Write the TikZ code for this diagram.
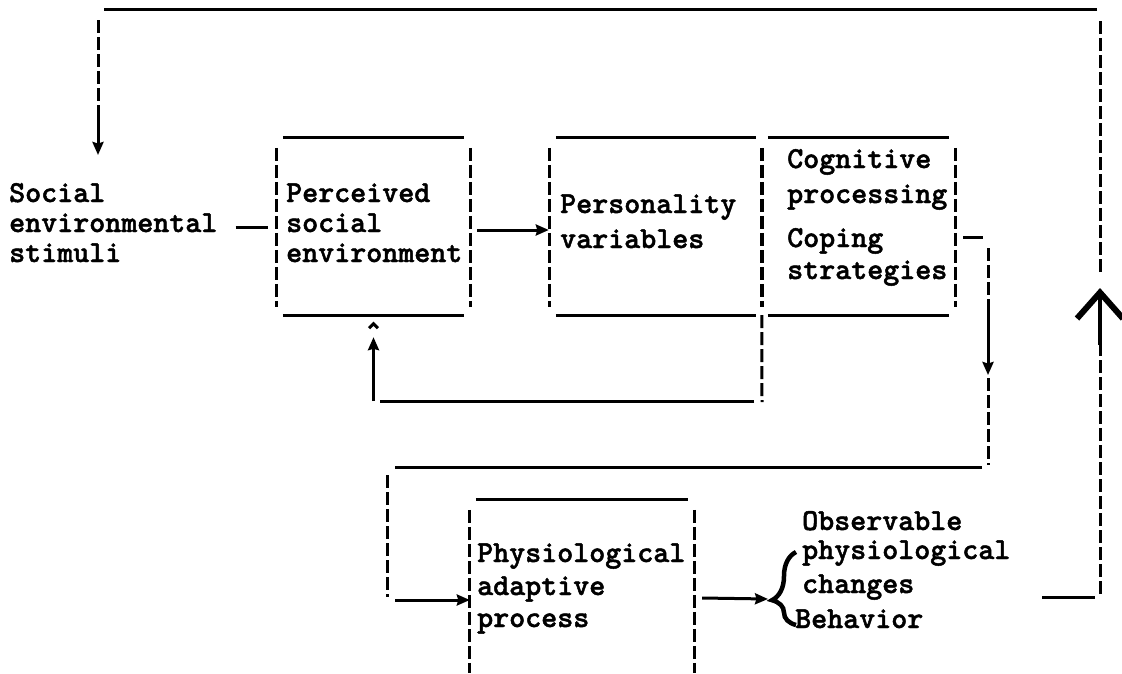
\documentclass[tikz,border=0pt]{standalone}
\usepackage{fontspec}
\newfontfamily\tyfam{lmmonolt10-bold.otf}[FakeBold=1.5]
\usetikzlibrary{arrows.meta,calc,decorations.pathreplacing}
\newcommand{\tyfont}{\fontsize{30.5}{33}\selectfont\tyfam}
\tikzset{
  rule/.style={line width=3pt},
  bar/.style={line width=3pt, dash pattern=on 13pt off 4pt},
  arr/.style={line width=3pt, -{Stealth[length=13pt,width=11pt,inset=1.5pt]}},
  bigarr/.style={line width=4.5pt, -{Straight Barb[length=26pt,width=46pt,line width=6pt]}},
  txt/.style={anchor=base west, inner sep=0pt, font=\tyfont},
  frame/.style={inner sep=0pt, minimum height=177pt},
  curly/.style={line width=4.5pt, decorate, decoration={brace, amplitude=24pt, aspect=0.34}},
}
% open typewriter box: top rule and dashed sides
\newcommand{\openbox}[1]{%
  \draw[rule] ($(#1.north west)+(6,0)$) -- ($(#1.north east)+(-6,0)$);
  \draw[bar] ($(#1.north west)+(0,10)$) -- ($(#1.south west)+(0,-8)$);
  \draw[bar] ($(#1.north east)+(0,10)$) -- ($(#1.south east)+(0,-8)$);
}
\begin{document}
\begin{tikzpicture}[x=1pt, y=-1pt]
  \fill[white] (0,0) rectangle (1122,673);
  \useasboundingbox (0,0) rectangle (1122,673);

  % boxes
  \node[frame, minimum width=193pt] (pse) at (373.5,226.5) {};
  \node[frame, minimum width=212pt] (pv) at (656,226.5) {};
  \node[frame, minimum width=193pt] (cog) at (858.5,226.5) {};
  \node[frame, minimum width=224pt, minimum height=181pt] (pap) at (582,590.5) {};
  \foreach \b in {pse,pv,cog,pap} {\openbox{\b}}
  \foreach \b in {pse,pv,cog}
    \draw[rule] ($(\b.south west)+(6,0)$) -- ($(\b.south east)+(-6,0)$);

  % texts
  \foreach \w/\y [count=\i] in {Social/202, environmental/232, stimuli/262}
    \node[txt] (soc\i) at (9,\y) {\w};
  \foreach \w/\y [count=\i] in {Perceived/202, social/232, environment/262}
    \node[txt] (pst\i) at (286,\y) {\w};
  \foreach \w/\y [count=\i] in {Personality/213, variables/248}
    \node[txt] (pvt\i) at (560,\y) {\w};
  \foreach \w/\y [count=\i] in {Cognitive/168, processing/203, Coping/247, strategies/279}
    \node[txt] (cgt\i) at (787,\y) {\w};
  \foreach \w/\y [count=\i] in {Physiological/562, adaptive/595, process/627}
    \node[txt] (pat\i) at (477,\y) {\w};
  \foreach \w/\y [count=\i] in {Observable/530, physiological/559, changes/593}
    \node[txt] (obs\i) at (802,\y) {\w};
  \node[txt] (beh) at (795,628) {Behavior};

  % upper row
  \draw[rule] ($(soc2.east)+(18,5)$) -- ($(pse.west |- soc2.east)+(-9,5)$);
  \draw[arr] ($(pse.east)+(7,3.5)$) -- ($(pv.west)+(-1,3.5)$);
  \draw[rule] ($(cog.east)+(8,10.5)$) -- ($(cog.east)+(28,10.5)$);

  % feedback under the boxes
  \coordinate (fb1) at (762,402);
  \coordinate (fb2) at (380,401);
  \coordinate (fb3) at (373.5,401);
  \draw[bar] (cog.south west) -- (fb1);
  \draw[rule] ($(fb1)+(-8,-1)$) -- (fb2);
  \draw[arr] (fb3) -- ($(pse.south)+(0,22)$);
  \draw[line width=3pt] ($(pse.south)+(-4.5,13)$) -- ($(pse.south)+(0,8.5)$) -- ($(pse.south)+(4.5,13)$);

  % down to the physiological process
  \coordinate (d1) at (988,248);
  \coordinate (d2) at (988,300);
  \coordinate (d3) at (988,375);
  \coordinate (d4) at (988,465);
  \draw[bar] (d1) -- (d2);
  \draw[arr] (d2) -- (d3);
  \draw[bar] ($(d3)+(0,3)$) -- (d4);
  \coordinate (h1) at (982,467);
  \coordinate (h2) at (395,467);
  \draw[rule] (h1) -- (h2);
  \coordinate (bl1) at (387,475);
  \coordinate (bl2) at (387,597);
  \draw[bar] (bl1) -- (bl2);
  \coordinate (pin) at (395,600);
  \draw[arr] (pin) -- (pap.west |- pin);
  \coordinate (brtip) at (768,599);
  \draw[arr] ($(pap.east |- pin)+(8,-2)$) -- (brtip);
  \draw[curly] (796,625) -- (796,552);

  % outer loop back to the stimuli
  \coordinate (o1) at (1042,597);
  \coordinate (o2) at (1095,597);
  \draw[rule] (o1) -- (o2);
  \coordinate (r1) at (1100,594);
  \coordinate (r2) at (1100,345);
  \coordinate (r3) at (1100,288);
  \coordinate (r4) at (1100,272);
  \coordinate (r5) at (1100,18);
  \draw[bar] (r1) -- (r2);
  \draw[bigarr] (r2) -- (r3);
  \draw[bar] (r4) -- (r5);
  \coordinate (t1) at (1097,9);
  \coordinate (t2) at (104,9);
  \draw[rule] (t1) -- (t2);
  \coordinate (l1) at (98,20);
  \coordinate (l2) at (98,113);
  \coordinate (l3) at (98,155);
  \draw[bar] (l1) -- (l2);
  \draw[arr] (l2) -- (l3);
\end{tikzpicture}
\end{document}
